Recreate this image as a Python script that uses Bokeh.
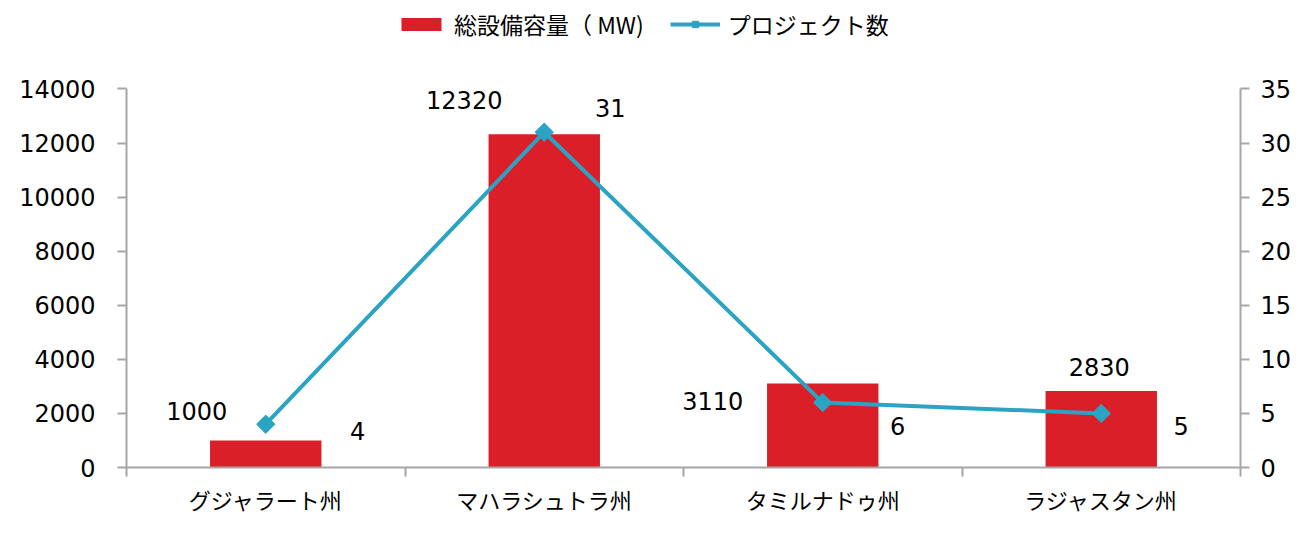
import numpy as np
from bokeh.plotting import figure
from bokeh.models import (Range1d, LinearAxis, FixedTicker, Legend, LegendItem,
                          ColumnDataSource)
from bokeh.core.properties import value
from bokeh.embed import file_html
from bokeh.resources import INLINE

categories = ["グジャラート州", "マハラシュトラ州", "タミルナドゥ州", "ラジャスタン州"]
capacity_mw = [1000, 12320, 3110, 2830]
project_count = [4, 31, 6, 5]
bar_label = "総設備容量（ MW)"
line_label = "プロジェクト数"
cap_max, cap_step = 14000, 2000
cnt_max, cnt_step = 35, 5

# label offsets (screen px) relative to the data point
cap_dx = [-69, -80, -110, -2]
cap_dy = [-29, -34, 18, -24]
cnt_dx = [92, 66, 75, 80]
cnt_dy = [7, -24, 23, 13]

RED = "#DA1F28"
TEAL = "#2BA3C2"
AXIS = "#A6A6A6"
NUM_FONT = "DejaVu Sans"
JP_FONT = "Noto Sans CJK JP"

W, H = 1294, 517
LEFT, RIGHT, BOTTOM = 126, 52, 47
AXIS_TOP = 89                      # pixel row of the top tick
frame_h = H - BOTTOM
scale = frame_h / (frame_h - AXIS_TOP)

n = len(categories)
xs = np.arange(n) + 0.5

p = figure(width=W, height=H, output_backend="svg", toolbar_location=None,
           x_range=Range1d(0, n), y_range=Range1d(0, cap_max * scale),
           min_border_left=LEFT, min_border_right=RIGHT, min_border_top=0,
           min_border_bottom=BOTTOM)
p.outline_line_color = None
p.xgrid.visible = False
p.ygrid.visible = False
p.extra_y_ranges = {"cnt": Range1d(0, cnt_max * scale)}

src_bar = ColumnDataSource(dict(x=xs, top=capacity_mw, lab=[str(v) for v in capacity_mw],
                                dx=cap_dx, dy=cap_dy))
src_line = ColumnDataSource(dict(x=xs, y=project_count, lab=[str(v) for v in project_count],
                                 dx=cnt_dx, dy=cnt_dy))

bars = p.vbar(x="x", top="top", width=0.4, bottom=0, source=src_bar,
              fill_color=RED, line_color=None)
ln = p.line(x="x", y="y", source=src_line, y_range_name="cnt",
            line_color=TEAL, line_width=4)
mk = p.scatter(x="x", y="y", source=src_line, y_range_name="cnt", marker="square",
               angle=np.pi / 4, size=13, fill_color=TEAL, line_color=TEAL)

p.text(x="x", y="top", text="lab", x_offset="dx", y_offset="dy", source=src_bar,
       text_font=value(NUM_FONT), text_font_size="24px", text_color="#000000",
       text_align="center", text_baseline="middle")
p.text(x="x", y="y", text="lab", x_offset="dx", y_offset="dy", source=src_line,
       y_range_name="cnt",
       text_font=value(NUM_FONT), text_font_size="24px", text_color="#000000",
       text_align="center", text_baseline="middle")

# x axis: labels at centres, ticks at boundaries
xa = p.xaxis[0]
xa.ticker = FixedTicker(ticks=list(xs), minor_ticks=list(range(n + 1)))
xa.major_label_overrides = {float(x): c for x, c in zip(xs, categories)}
xa.major_tick_out = 0
xa.major_tick_in = 0
xa.minor_tick_out = 9
xa.minor_tick_in = 0
xa.minor_tick_line_color = AXIS
xa.minor_tick_line_width = 2
xa.axis_line_color = AXIS
xa.axis_line_width = 2
xa.major_label_text_font = JP_FONT
xa.major_label_text_font_size = "22px"
xa.major_label_text_color = "#000000"
xa.major_label_standoff = 6

def style_y(ax, standoff):
    ax.minor_tick_line_color = None
    ax.major_tick_out = 9
    ax.major_tick_in = 0
    ax.major_tick_line_color = AXIS
    ax.major_tick_line_width = 2
    ax.axis_line_color = AXIS
    ax.axis_line_width = 2
    ax.major_label_text_font = NUM_FONT
    ax.major_label_text_font_size = "24px"
    ax.major_label_text_color = "#000000"
    ax.major_label_standoff = standoff

ya = p.yaxis[0]
ya.ticker = FixedTicker(ticks=list(range(0, cap_max + 1, cap_step)))
ya.bounds = (0, cap_max)
style_y(ya, 22)

ra = LinearAxis(y_range_name="cnt", ticker=FixedTicker(ticks=list(range(0, cnt_max + 1, cnt_step))),
                bounds=(0, cnt_max))
style_y(ra, 11)
p.add_layout(ra, "right")

legend = Legend(items=[LegendItem(label=bar_label, renderers=[bars]),
                       LegendItem(label=line_label, renderers=[ln, mk])],
                orientation="horizontal", location=(270, frame_h - 44),
                glyph_width=50, glyph_height=16, label_standoff=8, spacing=26,
                padding=0, margin=0, border_line_color=None, background_fill_alpha=0,
                label_text_font=JP_FONT, label_text_font_size="23px",
                label_text_color="#000000")
p.add_layout(legend, "center")

open("out.html", "w").write(file_html(p, INLINE))
